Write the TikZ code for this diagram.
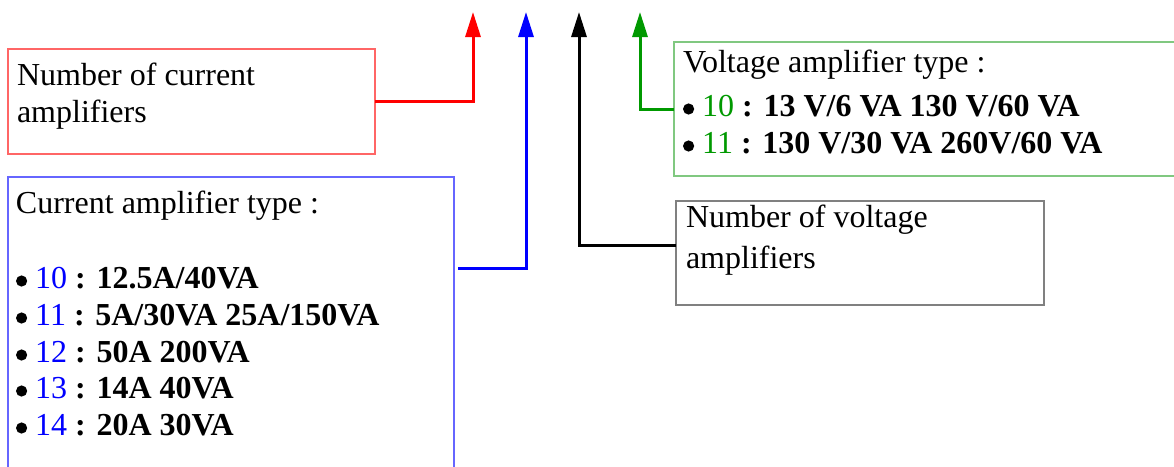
\documentclass[tikz,border=0pt]{standalone}
\usepackage{fontspec}
\setmainfont{Liberation Serif}
\usetikzlibrary{arrows.meta}
\definecolor{edgered}{RGB}{255,102,102}
\definecolor{edgeblue}{RGB}{102,102,255}
\definecolor{edgegray}{RGB}{128,128,128}
\definecolor{edgegreen}{RGB}{128,200,128}
\definecolor{numblue}{RGB}{0,0,255}
\definecolor{numgreen}{RGB}{0,153,0}
\definecolor{linkred}{RGB}{255,0,0}
\definecolor{linkblue}{RGB}{0,0,255}
\definecolor{linkgreen}{RGB}{0,153,0}
% round list mark, centred a little above the baseline
\newcommand\listdot{\tikz[baseline=0pt]\fill[black] (0pt,7pt) circle (5.6pt);}
\begin{document}
\begin{tikzpicture}[x=1pt,y=-1pt,
  font=\fontsize{32}{37}\selectfont,
  box/.style={draw, line width=1.2pt, inner sep=0pt, outer sep=0pt, anchor=north west},
  txt/.style={anchor=base west, inner sep=0pt, outer sep=0pt},
  link/.style={line width=3pt, -{Triangle[length=25pt,width=15pt]}}]
  \useasboundingbox (0,0) rectangle (1174,466);
  \clip (0,0) rectangle (1174,466);

  % boxes
  \node[box, draw=edgered,   minimum width=367pt, minimum height=105pt] (nca) at (8,49) {};
  \node[box, draw=edgeblue,  minimum width=446pt, minimum height=320pt] (cat) at (8,177) {};
  \node[box, draw=edgegray,  minimum width=368pt, minimum height=104pt] (nva) at (676,201) {};
  \node[box, draw=edgegreen, minimum width=520pt, minimum height=134pt] (vat) at (674,42) {};

  % number of current amplifiers
  \node[txt] (nca1) at (17,85)  {Number of current};
  \node[txt] (nca2) at (17,122) {amplifiers};

  % current amplifier types
  \node[txt] (cat0) at (16,213) {Current amplifier type :};
  \node[txt] (cat1) at (16,288) {\listdot\ {\color{numblue}10} \textbf{: 12.5A/40VA}};
  \node[txt] (cat2) at (16,325) {\listdot\ {\color{numblue}11} \textbf{: 5A/30VA 25A/150VA}};
  \node[txt] (cat3) at (16,362) {\listdot\ {\color{numblue}12} \textbf{: 50A 200VA}};
  \node[txt] (cat4) at (16,398) {\listdot\ {\color{numblue}13} \textbf{: 14A 40VA}};
  \node[txt] (cat5) at (16,435) {\listdot\ {\color{numblue}14} \textbf{: 20A 30VA}};

  % number of voltage amplifiers
  \node[txt] (nva1) at (686,227) {Number of voltage};
  \node[txt] (nva2) at (686,268) {amplifiers};

  % voltage amplifier types
  \node[txt] (vat0) at (683,72)  {Voltage amplifier type :};
  \node[txt] (vat1) at (683,116) {\listdot\ {\color{numgreen}10} \textbf{: 13 V/6 VA 130 V/60 VA}};
  \node[txt] (vat2) at (683,153) {\listdot\ {\color{numgreen}11} \textbf{: 130 V/30 VA 260V/60 VA}};

  % connector ends
  \coordinate (tipR) at (473,12);
  \coordinate (tipB) at (526,12);
  \coordinate (tipK) at (579,12);
  \coordinate (tipG) at (640,12);
  \coordinate (catOut) at (458,268);
  \coordinate (nvaIn)  at (676,245);

  % connectors
  \draw[link, linkred]   (nca.east) -| (tipR);
  \draw[link, linkblue]  (catOut) -| (tipB);
  \draw[link, black]     (nvaIn) -| (tipK);
  \draw[link, linkgreen] (vat.west) -| (tipG);
\end{tikzpicture}
\end{document}
